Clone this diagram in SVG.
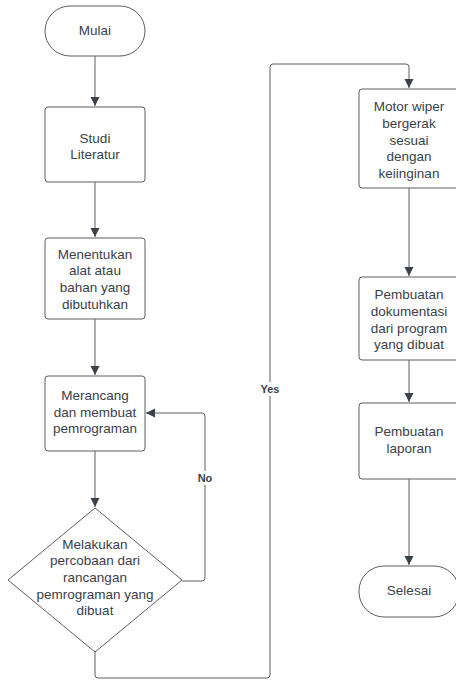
<svg xmlns="http://www.w3.org/2000/svg" width="456" height="680" viewBox="0 0 456 680">
<defs>
<marker id="arr" markerWidth="10" markerHeight="10" refX="9" refY="5" orient="auto" markerUnits="userSpaceOnUse">
<path d="M0,0.5 L9,5 L0,9.5 Z" fill="#3a414a"/>
</marker>
<style>
.n{fill:#fff;stroke:#5e5e5e;stroke-width:1}
.t{font-family:"Liberation Sans",Arial,sans-serif;font-size:13.5px;fill:#3a414a;text-anchor:middle;dominant-baseline:central}
.c{fill:none;stroke:#5e5e5e;stroke-width:1}
.l{font-family:"Liberation Sans",Arial,sans-serif;font-size:11px;font-weight:bold;fill:#3a414a;text-anchor:middle;dominant-baseline:central}
</style>
</defs>
<rect width="456" height="680" fill="#fff"/>
<g id="connectors">
<path class="c" d="M95,56 V106" marker-end="url(#arr)"/>
<path class="c" d="M95,182 V237" marker-end="url(#arr)"/>
<path class="c" d="M95,319 V375" marker-end="url(#arr)"/>
<path class="c" d="M95,451 V507" marker-end="url(#arr)"/>
<path class="c" d="M182,581 H202 Q205,581 205,578 V416 Q205,413 202,413 H146" marker-end="url(#arr)"/>
<path class="c" d="M95,652 V675 Q95,678 98,678 H267 Q270,678 270,675 V67 Q270,64 273,64 H406 Q409,64 409,67 V88" marker-end="url(#arr)"/>
<path class="c" d="M409,188 V276" marker-end="url(#arr)"/>
<path class="c" d="M409,360 V402" marker-end="url(#arr)"/>
<path class="c" d="M409,479 V565" marker-end="url(#arr)"/>
<rect x="194" y="471" width="22" height="14" fill="#fff"/>
<text class="l" x="205" y="478">No</text>
<rect x="257" y="382" width="26" height="14" fill="#fff"/>
<text class="l" x="270" y="389">Yes</text>
</g>
<g id="mulai">
<rect class="n" x="45" y="6" width="100" height="50" rx="25"/>
<text class="t" x="95" y="30">Mulai</text>
</g>
<g id="studi">
<rect class="n" x="45" y="107" width="100" height="75" rx="3"/>
<text class="t" x="95" y="138">Studi</text>
<text class="t" x="95" y="154.5">Literatur</text>
</g>
<g id="menentukan">
<rect class="n" x="45" y="238" width="100" height="81" rx="3"/>
<text class="t" x="95" y="254">Menentukan</text>
<text class="t" x="95" y="270.7">alat atau</text>
<text class="t" x="95" y="287.4">bahan yang</text>
<text class="t" x="95" y="304">dibutuhkan</text>
</g>
<g id="merancang">
<rect class="n" x="45" y="376" width="100" height="75" rx="3"/>
<text class="t" x="95" y="395">Merancang</text>
<text class="t" x="95" y="412">dan membuat</text>
<text class="t" x="95" y="428.7">pemrograman</text>
</g>
<g id="percobaan">
<path class="n" d="M95,508 L182,580 L95,652 L8,580 Z" stroke-linejoin="round"/>
<text class="t" x="95" y="544">Melakukan</text>
<text class="t" x="95" y="560.7">percobaan dari</text>
<text class="t" x="95" y="577.4">rancangan</text>
<text class="t" x="95" y="594">pemrograman yang</text>
<text class="t" x="95" y="610.8">dibuat</text>
</g>
<g id="motor">
<rect class="n" x="359" y="89" width="100" height="99" rx="3"/>
<text class="t" x="409" y="106.7">Motor wiper</text>
<text class="t" x="409" y="123.4">bergerak</text>
<text class="t" x="409" y="140.1">sesuai</text>
<text class="t" x="409" y="156.8">dengan</text>
<text class="t" x="409" y="173.5">keiinginan</text>
</g>
<g id="dokumentasi">
<rect class="n" x="359" y="277" width="100" height="83" rx="3"/>
<text class="t" x="409" y="294">Pembuatan</text>
<text class="t" x="409" y="311.3">dokumentasi</text>
<text class="t" x="409" y="328">dari program</text>
<text class="t" x="409" y="344.7">yang dibuat</text>
</g>
<g id="laporan">
<rect class="n" x="359" y="403" width="100" height="76" rx="3"/>
<text class="t" x="409" y="431.7">Pembuatan</text>
<text class="t" x="409" y="448.3">laporan</text>
</g>
<g id="selesai">
<rect class="n" x="359" y="566" width="100" height="51" rx="25"/>
<text class="t" x="409" y="590.7">Selesai</text>
</g>
</svg>
